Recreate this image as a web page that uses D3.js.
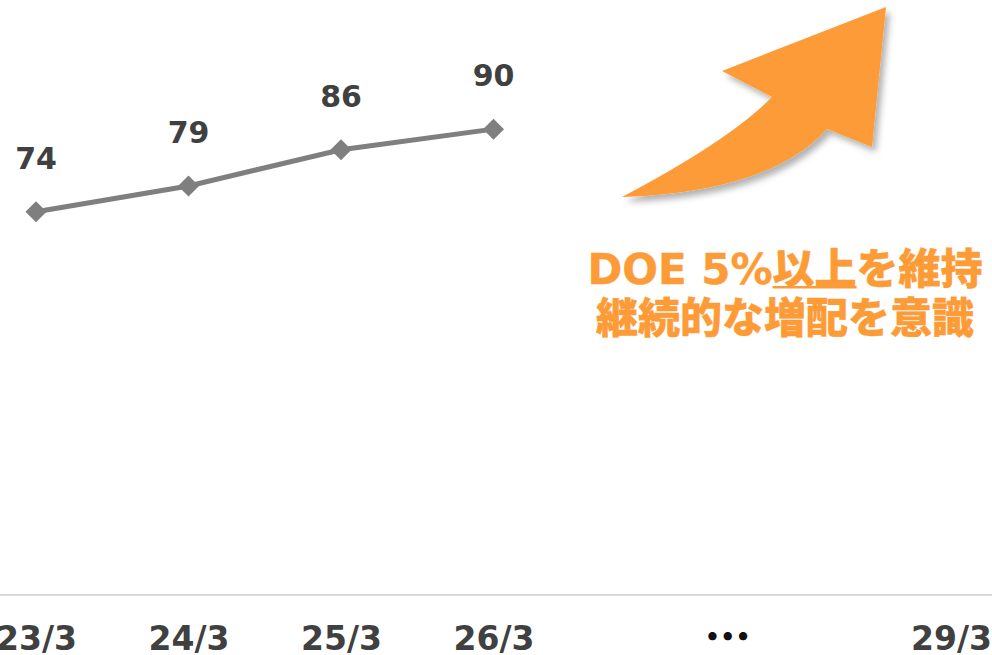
<!DOCTYPE html>
<html>
<head>
<meta charset="utf-8">
<script src="https://cdn.jsdelivr.net/npm/d3@7"></script>
<style>
  html, body { margin: 0; padding: 0; background: #ffffff; }
  svg { display: block; }
</style>
</head>
<body>
<svg id="chart" width="992" height="655"></svg>
<script>
// Dividend per share by fiscal year (year ending March)
const fiscalYears = [23, 24, 25, 26];
const dividends = [74, 79, 86, 90];

// Axis ticks: actual years, a gap marker, and the target year
const tickYears = [23, 24, 25, 26, 27.5, 29];
const tickLabels = ["23/3", "24/3", "25/3", "26/3", "…", "29/3"];

// Policy message
const messageLine1 = ["DOE 5%", "以上", "を維持"];
const messageLine2 = "継続的な増配を意識";

const W = 992, H = 655;
const svg = d3.select("#chart");

const x = d3.scaleLinear().domain([23, 29]).range([36, 951]);
const y = d3.scaleLinear().domain([0, 115]).range([594, 0]);

const orange = "#fd9b37";
const labelFont = "'DejaVu Sans', Verdana, 'Noto Sans CJK JP', sans-serif";

// Drop shadow for the arrow
const defs = svg.append("defs");
const f = defs.append("filter").attr("id", "shadow")
  .attr("x", "-20%").attr("y", "-20%").attr("width", "150%").attr("height", "150%");
f.append("feDropShadow")
  .attr("dx", 4).attr("dy", 5).attr("stdDeviation", 3)
  .attr("flood-color", "#000").attr("flood-opacity", 0.3);

// Baseline
svg.append("line")
  .attr("x1", 0).attr("x2", W)
  .attr("y1", 595).attr("y2", 595)
  .attr("stroke", "#d9d9d9").attr("stroke-width", 2);

// X axis labels
const xAxis = d3.axisBottom(x)
  .tickValues(tickYears)
  .tickFormat((d, i) => tickLabels[i])
  .tickSize(0);
const gx = svg.append("g").attr("transform", "translate(0,595)").call(xAxis);
gx.select(".domain").remove();
gx.selectAll("text")
  .attr("y", 55).attr("dy", null)
  .attr("font-family", labelFont)
  .attr("font-size", 33)
  .attr("font-weight", "bold")
  .attr("fill", "#404040");
gx.selectAll("text").filter((d, i) => tickLabels[i] === "…")
  .attr("font-family", "'Noto Sans CJK JP', sans-serif")
  .attr("font-size", 46)
  .attr("font-weight", 900)
  .attr("fill", "#111")
  .attr("x", 5)
  .attr("y", 58);

// Line
const series = fiscalYears.map((fy, i) => ({ fy, v: dividends[i] }));
svg.append("path")
  .datum(series)
  .attr("fill", "none")
  .attr("stroke", "#7f7f7f")
  .attr("stroke-width", 5)
  .attr("d", d3.line().x(d => x(d.fy)).y(d => y(d.v)));

// Diamond markers
const r = 10.5;
svg.selectAll(".marker").data(series).join("path")
  .attr("class", "marker")
  .attr("fill", "#7f7f7f")
  .attr("d", d => {
    const cx = x(d.fy), cy = y(d.v);
    return `M${cx},${cy - r}L${cx + r},${cy}L${cx},${cy + r}L${cx - r},${cy}Z`;
  });

// Value labels
svg.selectAll(".val").data(series).join("text")
  .attr("class", "val")
  .attr("x", d => x(d.fy))
  .attr("y", d => y(d.v) - 43)
  .attr("text-anchor", "middle")
  .attr("font-family", labelFont)
  .attr("font-size", 30)
  .attr("font-weight", "bold")
  .attr("fill", "#404040")
  .text(d => d.v);

// Rising arrow
const arrow = d3.path();
arrow.moveTo(886, 7);
arrow.lineTo(872, 147);
arrow.lineTo(827, 129);
arrow.quadraticCurveTo(770, 192, 622, 197);
arrow.quadraticCurveTo(730, 140, 772, 97);
arrow.lineTo(722, 71);
arrow.closePath();
svg.append("path")
  .attr("d", arrow.toString())
  .attr("fill", orange)
  .attr("filter", "url(#shadow)");

// Message text
const msgFont = "'DejaVu Sans', 'Noto Sans CJK JP', sans-serif";
const cx = 785;
const msgStyle = sel => sel
  .attr("text-anchor", "middle")
  .attr("font-family", msgFont)
  .attr("font-size", 42)
  .attr("font-weight", 900)
  .attr("fill", orange)
  .attr("stroke", orange)
  .attr("stroke-width", 0.4)
  .attr("stroke-linejoin", "round");

const t1 = svg.append("text")
  .attr("x", cx).attr("y", 284)
  .call(msgStyle)
  .text(messageLine1.join(""));

svg.append("text")
  .attr("x", cx).attr("y", 333)
  .call(msgStyle)
  .text(messageLine2);

// Underline beneath the second phrase of line 1
const node = t1.node();
const total = node.getComputedTextLength();
const start = messageLine1[0].length;
const ulStart = cx - total / 2 + node.getSubStringLength(0, start);
const ulLen = node.getSubStringLength(start, messageLine1[1].length);
svg.append("rect")
  .attr("x", ulStart).attr("y", 286)
  .attr("width", ulLen).attr("height", 2.5)
  .attr("fill", orange);
</script>
</body>
</html>
